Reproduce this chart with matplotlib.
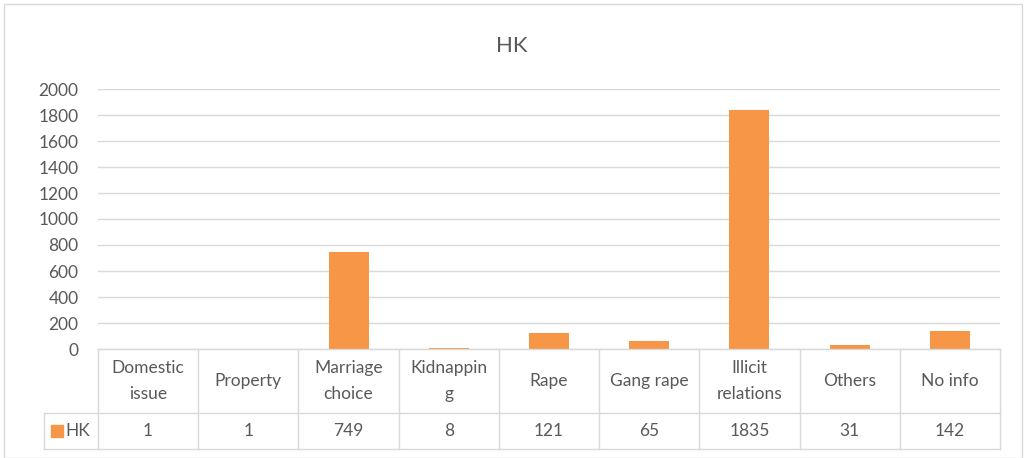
import matplotlib
matplotlib.use('Agg')
import matplotlib.pyplot as plt
from matplotlib.patches import Rectangle

categories = ["Domestic\nissue", "Property", "Marriage\nchoice", "Kidnappin\ng", "Rape",
              "Gang rape", "Illicit\nrelations", "Others", "No info"]
values = [1, 1, 749, 8, 121, 65, 1835, 31, 142]
series_name = "HK"
yticks = [0, 200, 400, 600, 800, 1000, 1200, 1400, 1600, 1800, 2000]

W, H = 1024, 458
bar_color = "#F79646"
grid_color = "#D9D9D9"
text_color = "#595959"
plt.rcParams['font.family'] = ['Lato', 'DejaVu Sans']

fig = plt.figure(figsize=(W / 100, H / 100), dpi=100)

def px_axes(x0, y0, x1, y1):
    # pixel box (top-left origin) -> figure axes
    return fig.add_axes([x0 / W, 1 - y1 / H, (x1 - x0) / W, (y1 - y0) / H])

# outer chart border
fig.patches.append(Rectangle((4 / W, 0), (1018 / W), 1 - 4 / H, transform=fig.transFigure,
                             fill=False, edgecolor="#D9D9D9", lw=1))

# main plot
ax = px_axes(98, 89, 1000, 349)
n = len(values)
ax.bar(range(n), values, width=0.4, color=bar_color, zorder=3)
ax.set_xlim(-0.5, n - 0.5)
ax.set_ylim(0, 2000)
ax.set_yticks(yticks)
ax.set_yticklabels([str(t) for t in yticks], fontsize=12.5, color=text_color)
ax.tick_params(axis='y', length=0, pad=14)
ax.set_xticks([])
ax.grid(axis='y', color=grid_color, lw=1, zorder=0)
for s in ax.spines.values():
    s.set_visible(False)

fig.text(512 / W, 1 - 46 / H, "HK", ha='center', va='center', fontsize=16, color=text_color)

# data table under the plot
leg_w = 54 / 100.2
tx = px_axes(44, 349, 1000, 449)
tx.set_xlim(-0.5 - leg_w, n - 0.5)
tx.set_ylim(100, 0)
tx.axis('off')
lk = dict(color=grid_color, lw=1, clip_on=False)
# header row (no left border on legend column)
tx.plot([-0.5, n - 0.5], [0, 0], **lk)
for i in range(n + 1):
    tx.plot([i - 0.5, i - 0.5], [0, 100], **lk)
tx.plot([-0.5 - leg_w, n - 0.5], [64, 64], **lk)
tx.plot([-0.5 - leg_w, n - 0.5], [100, 100], **lk)
tx.plot([-0.5 - leg_w, -0.5 - leg_w], [64, 100], **lk)
for i, (c, v) in enumerate(zip(categories, values)):
    tx.text(i, 32, c, ha='center', va='center', fontsize=12.5, color=text_color, linespacing=1.8)
    tx.text(i, 82, str(v), ha='center', va='center', fontsize=12.5, color=text_color)
tx.plot([-0.5 - leg_w + 0.13], [82], marker='s', ms=8, color=bar_color, clip_on=False)
tx.text(-0.5 - leg_w + 0.21, 82, series_name, ha='left', va='center', fontsize=12.5, color=text_color)

plt.savefig("out.png", dpi=100)
